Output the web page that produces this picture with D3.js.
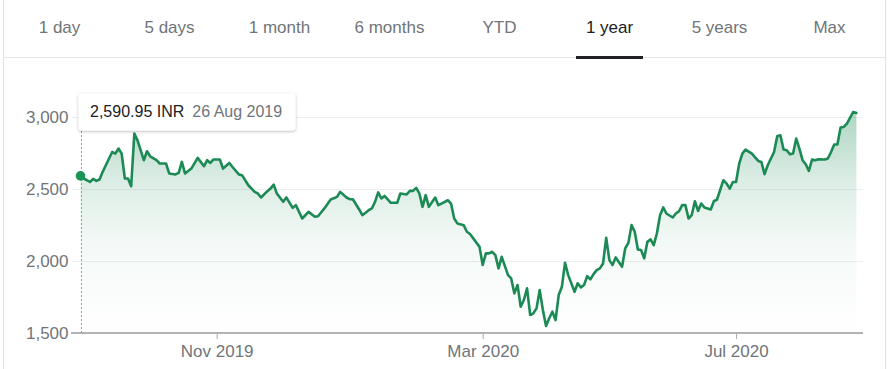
<!DOCTYPE html>
<html>
<head>
<meta charset="utf-8">
<script src="https://cdn.jsdelivr.net/npm/d3@7"></script>
<style>
  html, body { margin: 0; padding: 0; background: #fff; }
  svg { display: block; font-family: Arial, "Liberation Sans", sans-serif; }
</style>
</head>
<body>
<svg id="chart" width="891" height="369"></svg>
<script>
// Range selector tabs
const ranges = ["1 day", "5 days", "1 month", "6 months", "YTD", "1 year", "5 years", "Max"];
const activeRange = "1 year";

// Daily closing prices (INR), keyed by trading-session number from 26 Aug 2019
const sessionDays = [
  0, 1, 3, 4, 5, 6, 7, 8, 10, 11, 12, 13, 14, 15, 16, 17, 18, 20, 21, 22,
  24, 25, 27, 28, 30, 31, 32, 33, 35, 37, 39, 40, 41, 42, 44, 45, 47, 48, 50, 51,
  53, 55, 56, 57, 59, 60, 61, 62, 64, 65, 67, 68, 70, 72, 74, 75, 77, 79, 81, 82,
  84, 85, 86, 88, 89, 91, 92, 93, 94, 95, 96, 98, 100, 101, 103, 104, 105, 106, 107, 108,
  109, 110, 112, 113, 114, 116, 117, 118, 119, 121, 122, 123, 126, 127, 128, 129, 130, 131, 132, 133,
  135, 136, 137, 138, 139, 140, 141, 142, 143, 144, 145, 146, 147, 148, 149, 150, 151, 152, 153, 154,
  156, 157, 158, 159, 160, 161, 162, 163, 164, 165, 166, 167, 168, 169, 171, 172, 173, 174, 175, 176,
  177, 178, 179, 180, 181, 182, 183, 184, 185, 187, 188, 189, 190, 191, 192, 193, 194, 195, 196, 197,
  199, 200, 201, 203, 204, 205, 206, 207, 208, 209, 210, 212, 214, 215, 216, 217, 219, 220, 221, 222,
  223, 224, 225, 226, 227, 228, 229, 230, 231, 232, 233, 235, 236, 237, 238, 239, 240, 241, 242, 244,
  245
];
const closePrices = [
  2590.95, 2573, 2549, 2570, 2556, 2566, 2619, 2665, 2757, 2746, 2781, 2746, 2573, 2573, 2519, 2885, 2838, 2700, 2762, 2727,
  2700, 2677, 2677, 2608, 2601, 2612, 2688, 2608, 2642, 2716, 2658, 2700, 2681, 2705, 2705, 2642, 2681, 2653, 2601, 2596,
  2526, 2480, 2469, 2441, 2485, 2503, 2530, 2469, 2411, 2441, 2369, 2388, 2295, 2341, 2307, 2311, 2365, 2427, 2445, 2480,
  2441, 2429, 2429, 2358, 2318, 2353, 2365, 2411, 2476, 2434, 2452, 2404, 2404, 2469, 2462, 2487, 2487, 2508, 2469, 2376,
  2457, 2376, 2441, 2388, 2399, 2422, 2399, 2295, 2261, 2249, 2203, 2187, 2098, 1972, 2053, 2053, 2064, 2041, 1949, 2029,
  1902, 1879, 1775, 1833, 1682, 1729, 1810, 1625, 1637, 1671, 1798, 1660, 1549, 1602, 1648, 1590, 1764, 1821, 1988, 1902,
  1786, 1845, 1817, 1833, 1895, 1872, 1909, 1937, 1949, 1983, 2161, 2006, 1972, 2025, 1960, 2087, 2126, 2249, 2203, 2080,
  2076, 2018, 2133, 2150, 2110, 2191, 2318, 2372, 2330, 2302, 2330, 2346, 2388, 2388, 2295, 2318, 2415, 2348, 2399, 2372,
  2358, 2415, 2427, 2561, 2538, 2503, 2549, 2549, 2677, 2746, 2774, 2746, 2695, 2688, 2603, 2665, 2757, 2866, 2873, 2774,
  2769, 2741, 2746, 2850, 2781, 2700, 2672, 2626, 2705, 2700, 2707, 2705, 2712, 2757, 2809, 2809, 2927, 2931, 2954, 3035,
  3028
];

// Axis ticks
const yTickValues = [1500, 2000, 2500, 3000];
const xTickDays = [43, 127, 207];
const xTickLabels = ["Nov 2019", "Mar 2020", "Jul 2020"];

// Highlighted session shown in the hover card
const hoverDay = 0;
const hoverPrice = 2590.95;
const hoverDate = "26 Aug 2019";
const currency = "INR";

const data = sessionDays.map((d, i) => ({ day: d, price: closePrices[i] }));

const W = 891, H = 369;
const green = "#1b8a55";
const grey = "#70757a";

const svg = d3.select("#chart");

// ---- card frame ----
const frame = { left: 3, right: 885 };
svg.append("line").attr("x1", frame.left + 0.5).attr("x2", frame.left + 0.5)
  .attr("y1", 0).attr("y2", H).attr("stroke", "#dfe1e5");
svg.append("line").attr("x1", frame.right + 0.5).attr("x2", frame.right + 0.5)
  .attr("y1", 0).attr("y2", H).attr("stroke", "#dfe1e5");
svg.append("line").attr("x1", frame.left).attr("x2", frame.right)
  .attr("y1", 57.5).attr("y2", 57.5).attr("stroke", "#e3e5e8");

// ---- range tabs ----
const tabScale = d3.scaleBand().domain(ranges).range([4.5, 884.5]);
const tabs = svg.append("g");
tabs.selectAll("text").data(ranges).join("text")
  .attr("x", d => tabScale(d) + tabScale.bandwidth() / 2)
  .attr("y", 33)
  .attr("text-anchor", "middle")
  .attr("font-size", 17)
  .attr("fill", d => d === activeRange ? "#202124" : grey)
  .text(d => d);
tabs.append("rect")
  .attr("x", tabScale(activeRange) + tabScale.bandwidth() / 2 - 33.5)
  .attr("y", 56)
  .attr("width", 67)
  .attr("height", 3)
  .attr("fill", "#202124");

// ---- scales ----
const plot = { left: 80.5, right: 856.4, top: 117, bottom: 333 };
const x = d3.scaleLinear().domain([0, 245]).range([plot.left, plot.right]);
const y = d3.scaleLinear().domain([1500, 3000]).range([plot.bottom, plot.top]);

// ---- gridlines ----
svg.append("g").selectAll("line").data(yTickValues.slice(1)).join("line")
  .attr("x1", 72).attr("x2", 863)
  .attr("y1", d => Math.round(y(d)) + 0.5).attr("y2", d => Math.round(y(d)) + 0.5)
  .attr("stroke", "#eeeeee");

// ---- area gradient ----
const defs = svg.append("defs");
const grad = defs.append("linearGradient").attr("id", "fillGrad")
  .attr("gradientUnits", "userSpaceOnUse")
  .attr("x1", 0).attr("x2", 0).attr("y1", y(3040)).attr("y2", plot.bottom);
[[0, 0.36], [0.3, 0.16], [0.6, 0.05], [1, 0]].forEach(([o, a]) =>
  grad.append("stop").attr("offset", o).attr("stop-color", green).attr("stop-opacity", a));

const shadow = defs.append("filter").attr("id", "cardShadow")
  .attr("x", "-10%").attr("y", "-30%").attr("width", "120%").attr("height", "170%");
shadow.append("feDropShadow").attr("dx", 0).attr("dy", 1).attr("stdDeviation", 1.5)
  .attr("flood-color", "#000").attr("flood-opacity", 0.28);

const area = d3.area().x(d => x(d.day)).y0(plot.bottom).y1(d => y(d.price));
const line = d3.line().x(d => x(d.day)).y(d => y(d.price));

svg.append("path").datum(data).attr("d", area).attr("fill", "url(#fillGrad)");

// ---- x axis ----
const xAxis = d3.axisBottom(x)
  .tickValues(xTickDays)
  .tickFormat((d, i) => xTickLabels[i])
  .tickSize(6)
  .tickPadding(6);
const gx = svg.append("g").attr("transform", `translate(0,${plot.bottom})`).call(xAxis);
gx.select(".domain").remove();
gx.selectAll(".tick line").attr("stroke", "#aaaaaa");
gx.selectAll(".tick text").attr("font-size", 17).attr("fill", grey)
  .attr("font-family", "Arial, 'Liberation Sans', sans-serif");
svg.append("line").attr("x1", 71).attr("x2", 863)
  .attr("y1", plot.bottom).attr("y2", plot.bottom)
  .attr("stroke", "#b3b3b3").attr("stroke-width", 2);

// ---- y axis ----
const yAxis = d3.axisLeft(y).tickValues(yTickValues).tickFormat(d3.format(",")).tickSize(0).tickPadding(12);
const gy = svg.append("g").attr("transform", `translate(${plot.left},0)`).call(yAxis);
gy.select(".domain").remove();
gy.selectAll(".tick text").attr("font-size", 17).attr("fill", grey)
  .attr("font-family", "Arial, 'Liberation Sans', sans-serif");

// ---- hover guide ----
svg.append("line")
  .attr("x1", Math.round(x(hoverDay)) + 0.5).attr("x2", Math.round(x(hoverDay)) + 0.5)
  .attr("y1", 131).attr("y2", plot.bottom)
  .attr("stroke", "#9a9a9a").attr("stroke-dasharray", "2,2");

// ---- price line ----
svg.append("path").datum(data).attr("d", line)
  .attr("fill", "none").attr("stroke", green).attr("stroke-width", 2.6)
  .attr("stroke-linejoin", "round").attr("stroke-linecap", "round");

svg.append("circle").attr("cx", x(hoverDay)).attr("cy", y(hoverPrice)).attr("r", 4.8)
  .attr("fill", "#199456");

// ---- hover card ----
const card = svg.append("g");
card.append("rect").attr("x", 78.5).attr("y", 93.5).attr("width", 217).attr("height", 37)
  .attr("rx", 3).attr("fill", "#fff").attr("filter", "url(#cardShadow)");
const label = card.append("text").attr("x", 90).attr("y", 117).attr("font-size", 16);
label.append("tspan").attr("fill", "#202124").text(`${d3.format(",.2f")(hoverPrice)} ${currency}`);
label.append("tspan").attr("fill", grey).attr("dx", 8).text(hoverDate);
</script>
</body>
</html>
